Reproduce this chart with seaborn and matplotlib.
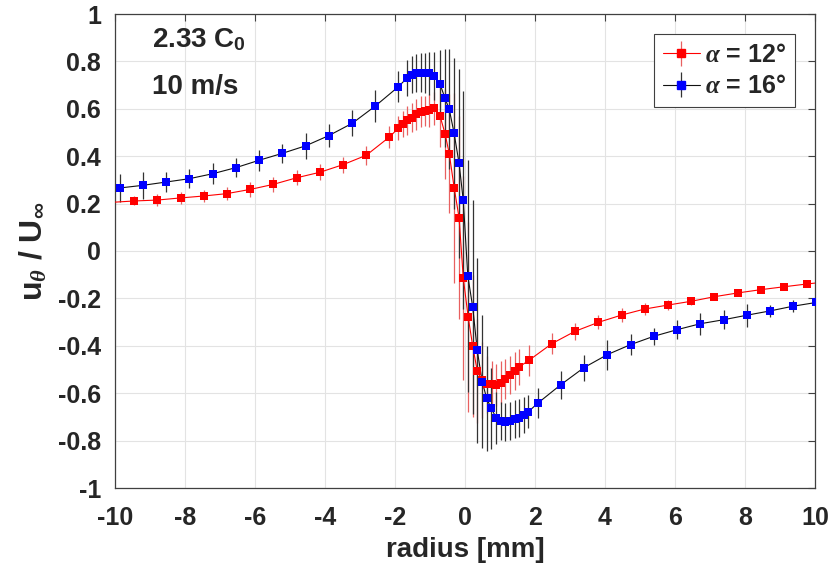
import matplotlib
matplotlib.use("Agg")
import matplotlib.pyplot as plt
import pandas as pd
import seaborn as sns

# alpha = 12 deg (red)
red_r = [-10.13, -9.46, -8.79, -8.12, -7.47, -6.81, -6.13, -5.48, -4.81, -4.15, -3.49, -2.82, -2.16,
         -1.905, -1.78, -1.65, -1.52, -1.40, -1.27, -1.14, -1.02, -0.90,
         -0.71, -0.57, -0.45, -0.31, -0.17, -0.05, 0.09, 0.22, 0.35, 0.48,
         0.62, 0.76, 0.89, 1.02, 1.14, 1.29, 1.42, 1.55, 1.83,
         2.48, 3.14, 3.81, 4.48, 5.13, 5.80, 6.47, 7.12, 7.79, 8.46, 9.11, 9.78, 10.45]
red_u = [0.205, 0.211, 0.215, 0.224, 0.232, 0.242, 0.260, 0.281, 0.309, 0.332, 0.364, 0.404, 0.481,
         0.518, 0.535, 0.551, 0.563, 0.577, 0.588, 0.591, 0.594, 0.602,
         0.568, 0.495, 0.411, 0.267, 0.141, -0.113, -0.278, -0.401, -0.506, -0.546,
         -0.563, -0.563, -0.565, -0.556, -0.541, -0.523, -0.506, -0.489, -0.461,
         -0.391, -0.339, -0.301, -0.270, -0.245, -0.228, -0.212, -0.193, -0.177, -0.163, -0.151, -0.139, -0.128]
red_err = [0.020, 0.019, 0.025, 0.026, 0.027, 0.028, 0.032, 0.033, 0.032, 0.033, 0.033, 0.041, 0.045,
           0.050, 0.055, 0.060, 0.060, 0.065, 0.065, 0.065, 0.070, 0.070,
           0.130, 0.190, 0.250, 0.400, 0.430, 0.430, 0.400, 0.300, 0.220, 0.160,
           0.120, 0.100, 0.090, 0.090, 0.085, 0.080, 0.080, 0.075, 0.065,
           0.045, 0.035, 0.030, 0.028, 0.025, 0.020, 0.015, 0.010, 0.010, 0.010, 0.010, 0.010, 0.010]

# alpha = 16 deg (blue)
blue_r = [-9.86, -9.21, -8.54, -7.88, -7.21, -6.54, -5.88, -5.22, -4.55, -3.89, -3.22, -2.56, -1.905,
          -1.65, -1.52, -1.40, -1.27, -1.14, -1.02, -0.88,
          -0.71, -0.57, -0.45, -0.31, -0.17, -0.05,
          0.08, 0.22, 0.35, 0.49, 0.62, 0.75, 0.89, 1.02, 1.14, 1.29, 1.42, 1.55, 1.68, 1.81,
          2.08, 2.73, 3.40, 4.07, 4.73, 5.39, 6.06, 6.72, 7.39, 8.05, 8.71, 9.37, 10.04]
blue_u = [0.266, 0.277, 0.291, 0.305, 0.326, 0.352, 0.383, 0.412, 0.444, 0.487, 0.539, 0.612, 0.693,
          0.731, 0.743, 0.750, 0.752, 0.752, 0.750, 0.738,
          0.703, 0.644, 0.598, 0.496, 0.370, 0.214,
          -0.105, -0.236, -0.419, -0.551, -0.622, -0.664, -0.703, -0.717, -0.720, -0.717, -0.710, -0.703, -0.692, -0.678,
          -0.642, -0.565, -0.492, -0.437, -0.395, -0.360, -0.332, -0.307, -0.290, -0.271, -0.253, -0.233, -0.217]
blue_err = [0.058, 0.058, 0.044, 0.041, 0.044, 0.040, 0.044, 0.041, 0.054, 0.049, 0.055, 0.067, 0.066,
            0.076, 0.078, 0.080, 0.082, 0.085, 0.090, 0.100,
            0.144, 0.207, 0.253, 0.320, 0.400, 0.460,
            0.490, 0.450, 0.390, 0.280, 0.220, 0.170, 0.110, 0.080, 0.080, 0.080, 0.080, 0.080, 0.075, 0.070,
            0.063, 0.060, 0.055, 0.063, 0.044, 0.037, 0.039, 0.047, 0.040, 0.049, 0.025, 0.026, 0.020]

labels = [r"$\alpha$ = 12°", r"$\alpha$ = 16°"]
x_ticks = list(range(-10, 11, 2))
y_ticks = [-1, -0.8, -0.6, -0.4, -0.2, 0, 0.2, 0.4, 0.6, 0.8, 1]
y_tick_labels = ["-1", "-0.8", "-0.6", "-0.4", "-0.2", "0", "0.2", "0.4", "0.6", "0.8", "1"]

sns.set_style("whitegrid")
plt.rcParams["font.family"] = ["Liberation Sans", "DejaVu Sans"]
plt.rcParams["font.weight"] = "bold"
plt.rcParams["axes.unicode_minus"] = False
plt.rcParams["mathtext.fontset"] = "custom"
plt.rcParams["mathtext.rm"] = "Liberation Sans:bold"
plt.rcParams["mathtext.bf"] = "Liberation Sans:bold"
plt.rcParams["mathtext.it"] = "Liberation Serif:italic"

fig = plt.figure(figsize=(8.39, 5.64), dpi=100)
ax = fig.add_axes([115 / 839, 76 / 564, 700 / 839, 474 / 564])

series = [
    (red_r, red_u, red_err, "#ff0000", "#ff0000", "#e86060"),
    (blue_r, blue_u, blue_err, "#0000ff", "#111111", "#333333"),
]
handles = []
for (r, u, err, mcolor, lcolor, ecolor), lab in zip(series, labels):
    df = pd.DataFrame({"radius": r, "u": u, "err": err})
    eb = ax.errorbar(df["radius"], df["u"], yerr=df["err"], fmt="none",
                     ecolor=ecolor, elinewidth=0.9, capsize=0, zorder=2)
    sns.lineplot(data=df, x="radius", y="u", ax=ax, sort=False, estimator=None,
                 color=lcolor, linewidth=0.8, zorder=3)
    sns.scatterplot(data=df, x="radius", y="u", ax=ax, marker="s", s=38,
                    color=mcolor, edgecolor=mcolor, linewidth=0, zorder=4)
    proxy = plt.Line2D([], [], color=lcolor, linewidth=0.8, marker="s",
                       markersize=5.5, markerfacecolor=mcolor, markeredgecolor=mcolor)
    handles.append((eb, proxy))

ax.set_xlim(-10, 10)
ax.set_ylim(-1, 1)
ax.set_xticks(x_ticks)
ax.set_xticklabels([str(v) for v in x_ticks])
ax.set_yticks(y_ticks)
ax.set_yticklabels(y_tick_labels)
ax.grid(True, color="#e3e3e3", linewidth=0.8)
ax.tick_params(axis="both", which="both", direction="in", top=True, right=True,
               length=5, width=0.8, color="#404040", labelsize=18)
ax.tick_params(axis="x", pad=13)
ax.tick_params(axis="y", pad=10)
for sp in ax.spines.values():
    sp.set_color("#404040")
    sp.set_linewidth(0.9)

ax.set_xlabel("radius [mm]", fontsize=20, fontweight="bold", labelpad=5)
ax.set_ylabel(r"u$_\theta$ / U$_\infty$", fontsize=23, fontweight="bold", labelpad=6)

ax.text(0.053, 0.945, r"2.33 C$_\mathbf{0}$", transform=ax.transAxes, fontsize=20,
        fontweight="bold", va="center", ha="left")
ax.text(0.053, 0.845, "10 m/s", transform=ax.transAxes, fontsize=20,
        fontweight="bold", va="center", ha="left")

leg = ax.legend(handles, labels, loc="upper right", fontsize=18, frameon=True,
                fancybox=False, framealpha=1, edgecolor="#404040",
                handlelength=1.5, handletextpad=0.2, borderpad=0.35,
                labelspacing=0.3, borderaxespad=0.8)
leg.get_frame().set_linewidth(0.8)
for t in leg.get_texts():
    t.set_fontweight("bold")

fig.savefig("out.png", dpi=100)
